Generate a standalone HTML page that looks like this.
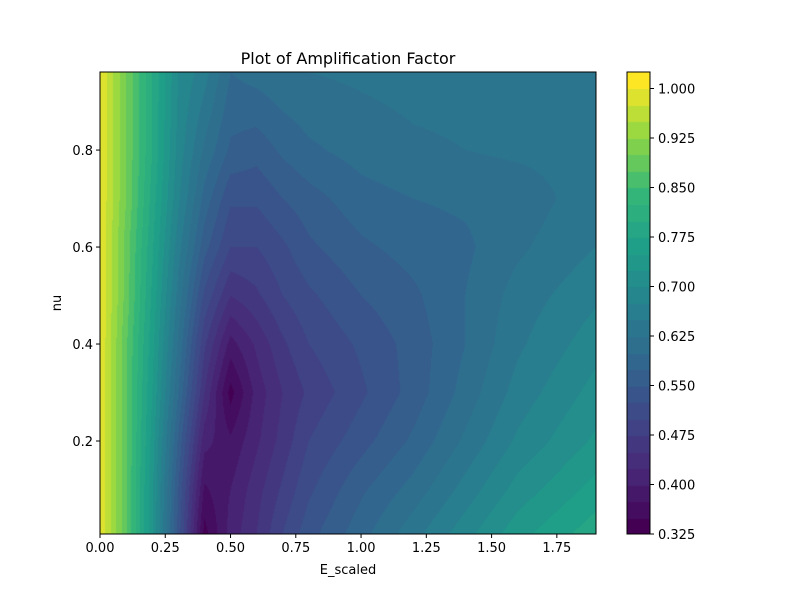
<!DOCTYPE html>
<html>
<head>
<meta charset="utf-8">
<style>
  body { margin:0; background:#fff; }
  #root { position:relative; width:800px; height:600px; background:#fff; font-family:"DejaVu Sans","Liberation Sans",sans-serif; }
  canvas { position:absolute; }
  svg { position:absolute; left:0; top:0; }
</style>
</head>
<body>
<div id="root">
  <canvas id="plot" width="496" height="462" style="left:100px;top:72px"></canvas>
  <canvas id="cbar" width="23" height="462" style="left:627px;top:72px"></canvas>
  <svg id="ov" width="800" height="600"></svg>
</div>
<script>
// ---- data ----
const xCoords = [0,0.1,0.2,0.3,0.4,0.5,0.6,0.7,0.8,1.0,1.2,1.4,1.6,1.9];
const yCoords = [0.96,0.8,0.7,0.6,0.5,0.4,0.3,0.2,0.1,0.01];
const zRow096 = [1.0,0.9,0.8,0.7,0.66,0.6,0.61,0.62,0.625,0.63,0.635,0.635,0.635,0.635];
const zRow080 = [1.0,0.9,0.8,0.69,0.62,0.57,0.56,0.58,0.595,0.61,0.62,0.625,0.63,0.635];
const zRow070 = [1.0,0.9,0.79,0.68,0.59,0.53,0.53,0.55,0.565,0.59,0.6,0.605,0.61,0.64];
const zRow060 = [1.0,0.89,0.78,0.66,0.56,0.5,0.5,0.52,0.545,0.57,0.585,0.595,0.62,0.65];
const zRow050 = [1.0,0.89,0.77,0.64,0.52,0.45,0.47,0.5,0.52,0.55,0.57,0.6,0.635,0.67];
const zRow040 = [1.0,0.88,0.76,0.62,0.48,0.39,0.43,0.47,0.5,0.53,0.56,0.6,0.645,0.69];
const zRow030 = [1.0,0.88,0.75,0.6,0.45,0.34,0.41,0.45,0.48,0.52,0.56,0.61,0.66,0.71];
const zRow020 = [1.0,0.88,0.74,0.57,0.41,0.38,0.42,0.46,0.5,0.54,0.58,0.63,0.68,0.73];
const zRow010 = [1.0,0.88,0.73,0.55,0.37,0.4,0.44,0.48,0.52,0.57,0.61,0.66,0.71,0.76];
const zRow001 = [1.0,0.88,0.73,0.54,0.34,0.41,0.45,0.5,0.54,0.59,0.64,0.69,0.74,0.79];
const zRows = [zRow096,zRow080,zRow070,zRow060,zRow050,zRow040,zRow030,zRow020,zRow010,zRow001];
const xTicks = [0,0.25,0.5,0.75,1.0,1.25,1.5,1.75];
const xTickLabels = ["0.00","0.25","0.50","0.75","1.00","1.25","1.50","1.75"];
const yTicks = [0.2,0.4,0.6,0.8];
const yTickLabels = ["0.2","0.4","0.6","0.8"];
const cTicks = [0.325,0.4,0.475,0.55,0.625,0.7,0.775,0.85,0.925,1.0];
const cTickLabels = ["0.325","0.400","0.475","0.550","0.625","0.700","0.775","0.850","0.925","1.000"];
const levelMin = 0.325, levelMax = 1.025, levelStep = 0.025;

// ---- axes ----
const PX0=100, PX1=596, PY0=72, PY1=534;
const xMin=0, xMax=1.9, yMin=0.0082, yMax=0.961;
const xs = v => PX0 + (v-xMin)/(xMax-xMin)*(PX1-PX0);
const ys = v => PY1 - (v-yMin)/(yMax-yMin)*(PY1-PY0);
const cs = v => PY1 - (v-levelMin)/(levelMax-levelMin)*(PY1-PY0);

const stops = ["#440154","#482878","#3e4989","#31688e","#26828e","#1f9e89","#35b779","#90d743","#fde725"];
function hex(h){return [1,3,5].map(i=>parseInt(h.substr(i,2),16));}
const stopRGB = stops.map(hex);
function viridis(t){
  t=Math.max(0,Math.min(1,t)); const f=t*(stops.length-1); const i=Math.min(stops.length-2,Math.floor(f)); const u=f-i;
  const a=stopRGB[i], b=stopRGB[i+1];
  return [0,1,2].map(k=>Math.round(a[k]+(b[k]-a[k])*u));
}
const nBands = Math.round((levelMax-levelMin)/levelStep);
function bandColor(i){ return viridis(i/(nBands-1)); }

function interp(arr, v){
  for(let i=0;i<arr.length-1;i++){
    const a=arr[i], b=arr[i+1];
    if((v>=Math.min(a,b)) && (v<=Math.max(a,b))) return [i,(v-a)/(b-a)];
  }
  if((arr[0]<arr[arr.length-1]) === (v<arr[0])) return [0,0];
  return [arr.length-2,1];
}
function zAt(x,y){
  const [i,fx]=interp(xCoords,x), [j,fy]=interp(yCoords,y);
  const z00=zRows[j][i], z01=zRows[j][i+1], z10=zRows[j+1][i], z11=zRows[j+1][i+1];
  return (z00*(1-fx)+z01*fx)*(1-fy)+(z10*(1-fx)+z11*fx)*fy;
}

const pc=document.getElementById('plot').getContext('2d');
const W=496,H=462, img=pc.createImageData(W,H);
for(let py=0;py<H;py++){
  const y=yMax-(py+0.5)/H*(yMax-yMin);
  for(let px=0;px<W;px++){
    const x=xMin+(px+0.5)/W*(xMax-xMin);
    let b=Math.floor((zAt(x,y)-levelMin)/levelStep); b=Math.max(0,Math.min(nBands-1,b));
    const c=bandColor(b), o=(py*W+px)*4;
    img.data[o]=c[0];img.data[o+1]=c[1];img.data[o+2]=c[2];img.data[o+3]=255;
  }
}
pc.putImageData(img,0,0);

const cc=document.getElementById('cbar').getContext('2d');
for(let b=0;b<nBands;b++){
  const c=bandColor(b);
  const top=cs(levelMin+(b+1)*levelStep)-PY0, bot=cs(levelMin+b*levelStep)-PY0;
  cc.fillStyle=`rgb(${c[0]},${c[1]},${c[2]})`;
  cc.fillRect(0,Math.floor(top),23,Math.ceil(bot-top)+1);
}

const ov=document.getElementById('ov'), NS='http://www.w3.org/2000/svg';
function el(tag,attrs,parent){const e=document.createElementNS(NS,tag);for(const k in attrs)e.setAttribute(k,attrs[k]);(parent||ov).appendChild(e);return e;}
function txt(s,attrs){const t=el('text',Object.assign({'font-size':13,fill:'#000','font-family':'DejaVu Sans, Liberation Sans, sans-serif'},attrs));t.textContent=s;return t;}

let f=el('rect',{x:PX0,y:PY0,width:PX1-PX0,height:PY1-PY0,fill:'none',stroke:'#000','stroke-width':1});


let cf=el('rect',{x:627,y:PY0,width:23,height:PY1-PY0,fill:'none',stroke:'#000','stroke-width':1});



xTicks.forEach((v,i)=>{
  const x=xs(v);
  const l=el('line',{x1:x,x2:x,y1:PY1,y2:PY1+4,stroke:'#000'});
  
  
  const t=txt(xTickLabels[i],{x:x,y:PY1+18,'text-anchor':'middle'});
  
  
});
yTicks.forEach((v,i)=>{
  const y=ys(v);
  const l=el('line',{x1:PX0-4,x2:PX0,y1:y,y2:y,stroke:'#000'});
  
  
  const t=txt(yTickLabels[i],{x:PX0-7,y:y+5,'text-anchor':'end'});
  
  
});
cTicks.forEach((v,i)=>{
  const y=cs(v);
  const l=el('line',{x1:650,x2:654,y1:y,y2:y,stroke:'#000'});
  
  
  const t=txt(cTickLabels[i],{x:658,y:y+5,'text-anchor':'start'});
  
  
});
let tt=txt('Plot of Amplification Factor',{x:348,y:64,'text-anchor':'middle','font-size':16});


let xl=txt('E_scaled',{x:348,y:574,'text-anchor':'middle'});


let yl=txt('nu',{x:0,y:0,'text-anchor':'middle',transform:'translate(61,303) rotate(-90)'});


</script>
</body>
</html>
